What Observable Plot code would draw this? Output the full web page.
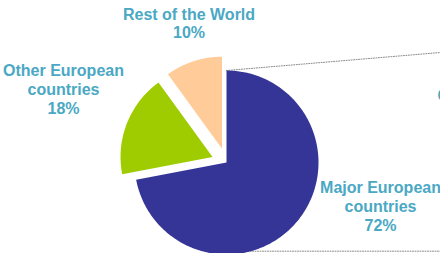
<!DOCTYPE html>
<html>
<head>
<meta charset="utf-8">
<script src="https://cdn.jsdelivr.net/npm/d3@7"></script>
<script src="https://cdn.jsdelivr.net/npm/@observablehq/plot@0.6"></script>
<style>
  html, body { margin: 0; padding: 0; background: #fff; }
  #chart svg { display: block; }
</style>
</head>
<body>
<div id="chart"></div>
<script>
// ---- data ----
const categories = ["Major European countries", "Other European countries", "Rest of the World"];
const labelLines = [["Major European", "countries"], ["Other European", "countries"], ["Rest of the World"]];
const shares = [72, 18, 10];
const colors = ["#353597", "#9fcc00", "#ffcc99"];
const cutLabel = "C"; // label of the second (cropped) pie, only its edge is visible

// ---- layout ----
const W = 440, H = 253;
const center = [226, 162];
const radius = 92;
const explode = [0, 15, 14.5];
const labelPos = [[380, 230], [63, 113], [188.5, 37.7]];
const connectors = [
  {id: "top", pts: [[226, 70], [440, 52]]},
  {id: "bottom", pts: [[232, 250.7], [440, 250.7]]}
];

const arcs = d3.pie().sort(null)(shares);
const slicePts = [];
arcs.forEach((a, i) => {
  const mid = (a.startAngle + a.endAngle) / 2;
  const ox = center[0] + explode[i] * Math.sin(mid);
  const oy = center[1] - explode[i] * Math.cos(mid);
  slicePts.push({cat: categories[i], x: ox, y: oy, c: colors[i]});
  const n = Math.max(8, Math.ceil((a.endAngle - a.startAngle) / (Math.PI / 180)));
  for (let k = 0; k <= n; k++) {
    const t = a.startAngle + (a.endAngle - a.startAngle) * k / n;
    slicePts.push({cat: categories[i], x: ox + radius * Math.sin(t), y: oy - radius * Math.cos(t), c: colors[i]});
  }
});

const connPts = connectors.flatMap(c => c.pts.map(p => ({id: c.id, x: p[0], y: p[1]})));

const labels = categories.map((c, i) => ({
  text: labelLines[i].concat([shares[i] + "%"]).join("\n"),
  x: labelPos[i][0], y: labelPos[i][1]
}));

const chart = Plot.plot({
  width: W, height: H,
  margin: 0,
  x: {domain: [0, W], axis: null},
  y: {domain: [0, H], reverse: true, axis: null},
  style: {fontFamily: "'Liberation Sans', Arial, sans-serif", background: "#fff"},
  marks: [
    Plot.line(connPts, {x: "x", y: "y", z: "id", stroke: "#8a8a8a", strokeWidth: 1, strokeDasharray: "1,1.5"}),
    Plot.line(slicePts, {x: "x", y: "y", z: "cat", fill: "c", stroke: "none", curve: "linear-closed"}),
    Plot.text(labels, {x: "x", y: "y", text: "text", lineAnchor: "bottom", lineHeight: 1.16,
      textAnchor: "middle", fontSize: 16, fontWeight: "bold", fill: "#4aa8c4"}),
    Plot.text([cutLabel], {x: 437, y: 100.8, text: d => d, lineAnchor: "bottom", textAnchor: "start",
      fontSize: 16, fontWeight: "bold", fill: "#4aa8c4"})
  ]
});
document.getElementById("chart").appendChild(chart);
</script>
</body>
</html>
